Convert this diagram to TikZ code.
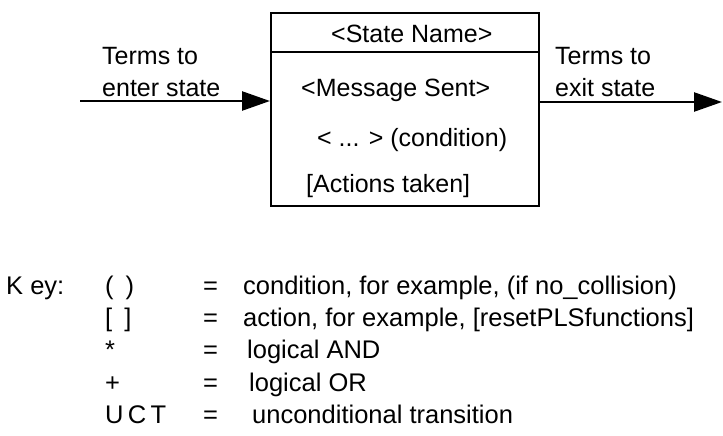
\documentclass[tikz,border=0pt]{standalone}
\usepackage{fontspec}
\setmainfont{Liberation Sans}
\usetikzlibrary{arrows.meta}
\tikzset{
  lbl/.style={inner sep=0pt, anchor=base west, font=\fontsize{25}{29}\selectfont},
  keytxt/.style={inner sep=0pt, anchor=base west, font=\fontsize{25.5}{29}\selectfont},
  boxline/.style={line width=2pt},
  arr/.style={line width=2.5pt, -{Triangle[length=28pt,width=19pt]}},
}
\begin{document}
\begin{tikzpicture}[x=1pt,y=-1pt]
\useasboundingbox (0,0) rectangle (723,436);
% state box
\node[draw, boxline, minimum width=268pt, minimum height=193pt, anchor=north west, inner sep=0pt] (state) at (270,12) {};
\coordinate (hdr) at (0,52);
\draw[boxline] (state.west |- hdr) -- (state.east |- hdr);
\node[lbl] (sname) at (331,43) {<State Name>};
\node[lbl] (msg) at (301,96) {<Message Sent>};
\node[lbl] (cond) at (317,146) {< ... > (condition)};
\node[lbl] (act) at (306,192) {[Actions taken]};
% entry / exit
\coordinate (inS) at (80,101);
\coordinate (outE) at (722,102);
\draw[arr] (inS) -- (inS -| state.west);
\draw[arr] (state.east |- outE) -- (outE);
\node[lbl] (ent1) at (102,65) {Terms to};
\node[lbl] (ent2) at (102,96) {enter state};
\node[lbl] (ext1) at (555,65) {Terms to};
\node[lbl] (ext2) at (555,96) {exit state};
% key
\node[keytxt] (key) at (6,294) {K ey:};
\node[keytxt] (s1) at (105,294) {(\hspace{12pt})};
\node[keytxt] (s2) at (105,326) {[\hspace{12pt}]};
\node[keytxt] (s3) at (105,358) {*};
\node[keytxt] (s4) at (105,391) {+};
\node[keytxt] (s5) at (105,423) {U\,C\,T};
\node[keytxt] (e1) at (203,294) {=};
\node[keytxt] (e2) at (203,326) {=};
\node[keytxt] (e3) at (203,358) {=};
\node[keytxt] (e4) at (203,391) {=};
\node[keytxt] (e5) at (203,423) {=};
\node[keytxt] (d1) at (243,294) {condition, for example, (if no\_collision)};
\node[keytxt] (d2) at (243,326) {action, for example, [resetPLSfunctions]};
\node[keytxt] (d3) at (247,358) {logical AND};
\node[keytxt] (d4) at (249,391) {logical OR};
\node[keytxt] (d5) at (252,423) {unconditional transition};
\end{tikzpicture}
\end{document}
